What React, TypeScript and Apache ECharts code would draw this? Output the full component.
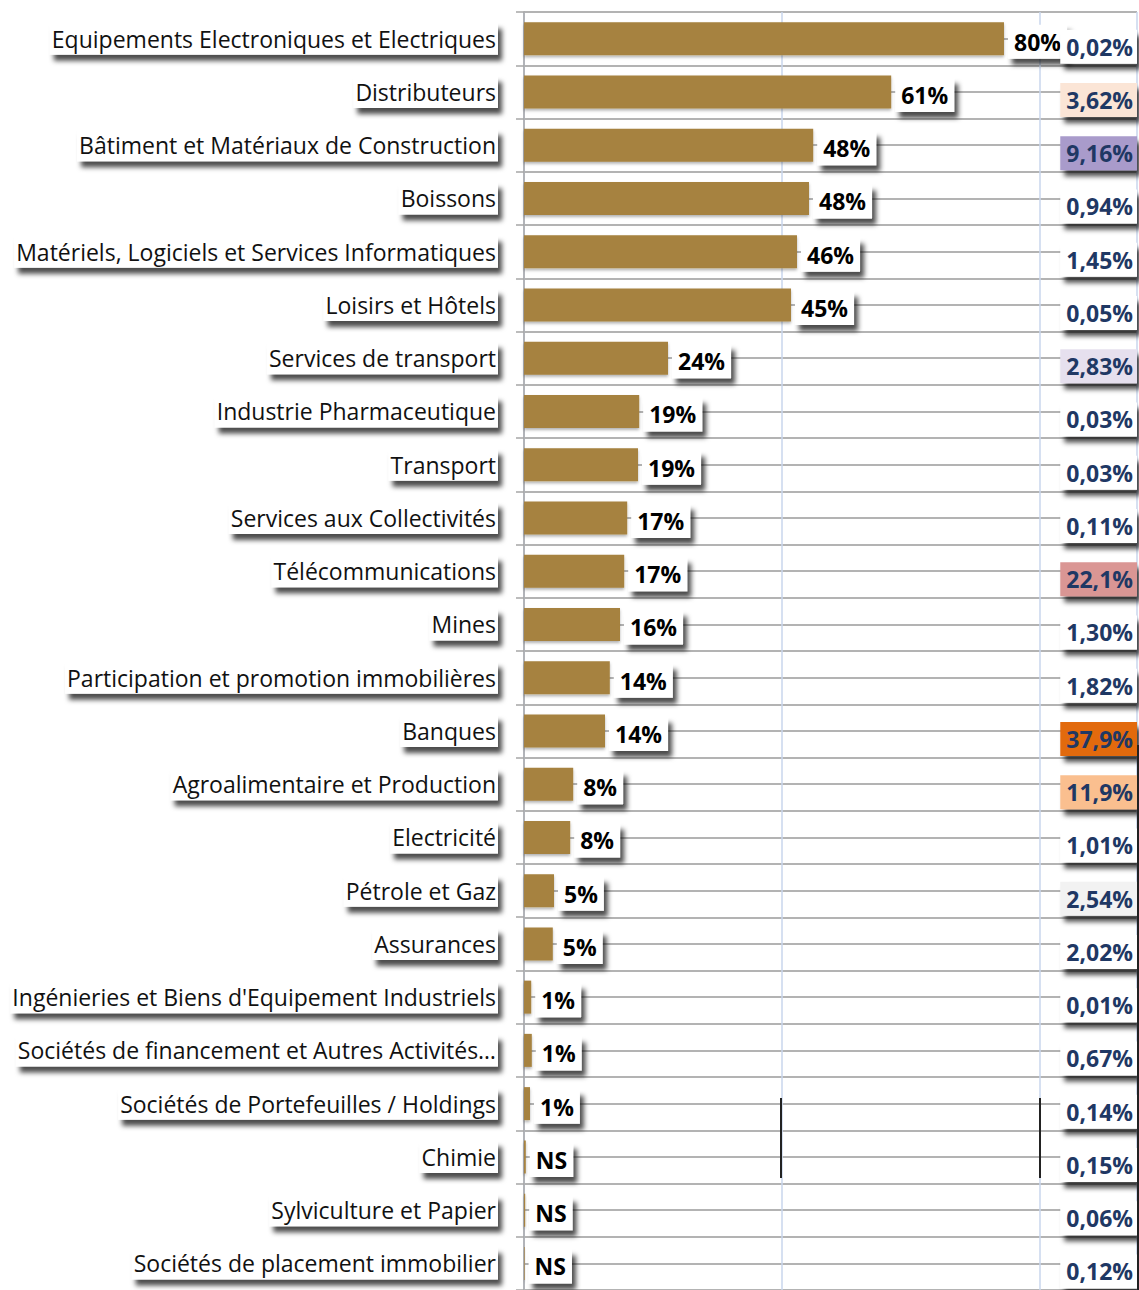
import React, { useEffect, useRef } from "react";
import * as echarts from "echarts";

const categories = [
  "Equipements Electroniques et Electriques",
  "Distributeurs",
  "Bâtiment et Matériaux de Construction",
  "Boissons",
  "Matériels, Logiciels et Services Informatiques",
  "Loisirs et Hôtels",
  "Services de transport",
  "Industrie Pharmaceutique",
  "Transport",
  "Services aux Collectivités",
  "Télécommunications",
  "Mines",
  "Participation et promotion immobilières",
  "Banques",
  "Agroalimentaire et Production",
  "Electricité",
  "Pétrole et Gaz",
  "Assurances",
  "Ingénieries et Biens d'Equipement Industriels",
  "Sociétés de financement et Autres Activités…",
  "Sociétés de Portefeuilles / Holdings",
  "Chimie",
  "Sylviculture et Papier",
  "Sociétés de placement immobilier",
];

// bar lengths (percent)
const barValues = [80, 61.2, 48.2, 47.5, 45.5, 44.5, 24, 19.2, 19, 17.2, 16.7, 16, 14.3, 13.5, 8.2, 7.7, 5, 4.8, 1.2, 1.3, 1, 0.3, 0.2, 0.1];

// labels shown next to the bars
const barLabels = ["80%", "61%", "48%", "48%", "46%", "45%", "24%", "19%", "19%", "17%", "17%", "16%", "14%", "14%", "8%", "8%", "5%", "5%", "1%", "1%", "1%", "NS", "NS", "NS"];

// right-hand column (share)
const shareLabels = ["0,02%", "3,62%", "9,16%", "0,94%", "1,45%", "0,05%", "2,83%", "0,03%", "0,03%", "0,11%", "22,1%", "1,30%", "1,82%", "37,9%", "11,9%", "1,01%", "2,54%", "2,02%", "0,01%", "0,67%", "0,14%", "0,15%", "0,06%", "0,12%"];

const shareBg: Record<string, string> = {
  "3,62%": "#FBE5D6",
  "9,16%": "#A99BCB",
  "2,83%": "#E6E0EE",
  "22,1%": "#DA9694",
  "37,9%": "#E26B0A",
  "11,9%": "#FABF8F",
  "2,54%": "#F2F2F2",
};

const FONT = "'Open Sans', 'Noto Sans', sans-serif";

export default function App() {
  const ref = useRef<HTMLDivElement>(null);

  useEffect(() => {
    document.body.style.margin = "0";
    document.body.style.overflow = "hidden";
    if (!ref.current) return;
    const chart = echarts.init(ref.current, undefined, { renderer: "svg" });

    const boxShadow = {
      shadowColor: "rgba(0,0,0,0.7)",
      shadowBlur: 5,
      shadowOffsetX: 4,
      shadowOffsetY: 6,
    };

    chart.setOption({
      animation: false,
      backgroundColor: "#ffffff",
      grid: { left: 524, top: 12, width: 613, height: 1286, containLabel: false },
      xAxis: [
        {
          type: "value",
          min: 0,
          max: 102.17,
          interval: 43,
          axisLine: { show: false },
          axisTick: { show: false },
          axisLabel: { show: false },
          splitLine: { show: true, lineStyle: { color: "#C9D6EC", width: 1.5 } },
        },
        {
          type: "value",
          min: 0,
          max: 1,
          show: false,
        },
      ],
      yAxis: [
        {
          type: "category",
          data: categories,
          inverse: true,
          axisLine: { show: true, lineStyle: { color: "#A6A6A6", width: 1.5 } },
          axisTick: { show: true, length: 8, lineStyle: { color: "#A6A6A6", width: 1.5 } },
          splitLine: { show: false },
          axisLabel: {
            interval: 0,
            margin: 26,
            fontFamily: FONT,
            fontSize: 23,
            lineHeight: 27,
            color: "#111",
            backgroundColor: "#ffffff",
            padding: [3, 2, 2, 2],
            ...boxShadow,
          },
        },
        {
          type: "value",
          min: -0.5,
          max: 23.5,
          interval: 0.5,
          position: "right",
          axisLine: { show: false },
          axisTick: { show: false },
          axisLabel: { show: false },
          splitLine: { show: true, lineStyle: { color: "#B3B3B3", width: 1.8 } },
        },
      ],
      series: [
        {
          type: "bar",
          xAxisIndex: 0,
          yAxisIndex: 0,
          data: barValues,
          barWidth: 33,
          itemStyle: {
            color: "#A6823F",
            shadowColor: "rgba(0,0,0,0.3)",
            shadowBlur: 3,
            shadowOffsetY: 2,
          },
          label: {
            show: true,
            position: "right",
            distance: 4,
            offset: [0, 3],
            formatter: (p: any) => barLabels[p.dataIndex],
            fontFamily: FONT,
            fontWeight: "bold",
            fontSize: 23,
            lineHeight: 28,
            color: "#000",
            backgroundColor: "#ffffff",
            padding: [3, 6, 3, 6],
            ...boxShadow,
          },
          z: 3,
        },
        {
          type: "scatter",
          xAxisIndex: 1,
          yAxisIndex: 0,
          symbolSize: 0,
          itemStyle: { color: "#ffffff", opacity: 1 },
          data: shareLabels.map((s, i) => ({
            value: [1, categories[i]],
            label: { backgroundColor: shareBg[s] || "#ffffff" },
          })),
          label: {
            show: true,
            position: "left",
            distance: 0,
            offset: [0, 8],
            opacity: 1,
            formatter: (p: any) => shareLabels[p.dataIndex],
            fontFamily: FONT,
            fontWeight: "bold",
            fontSize: 23,
            lineHeight: 28,
            color: "#1F3864",
            padding: [3, 4, 3, 6],
            ...boxShadow,
          },
          z: 4,
        },
      ],
      graphic: [
        { type: "line", shape: { x1: 781, y1: 1098, x2: 781, y2: 1178 }, style: { stroke: "#222", lineWidth: 2 }, z: 5 },
        { type: "line", shape: { x1: 1040, y1: 1098, x2: 1040, y2: 1178 }, style: { stroke: "#222", lineWidth: 2 }, z: 5 },
        { type: "line", shape: { x1: 1138, y1: 745, x2: 1138, y2: 1290 }, style: { stroke: "#222", lineWidth: 2 }, z: 5 },
      ],
    });

    return () => chart.dispose();
  }, []);

  return (
    <div
      ref={ref}
      style={{ position: "absolute", left: 0, top: 0, width: 1139, height: 1290 }}
    />
  );
}
